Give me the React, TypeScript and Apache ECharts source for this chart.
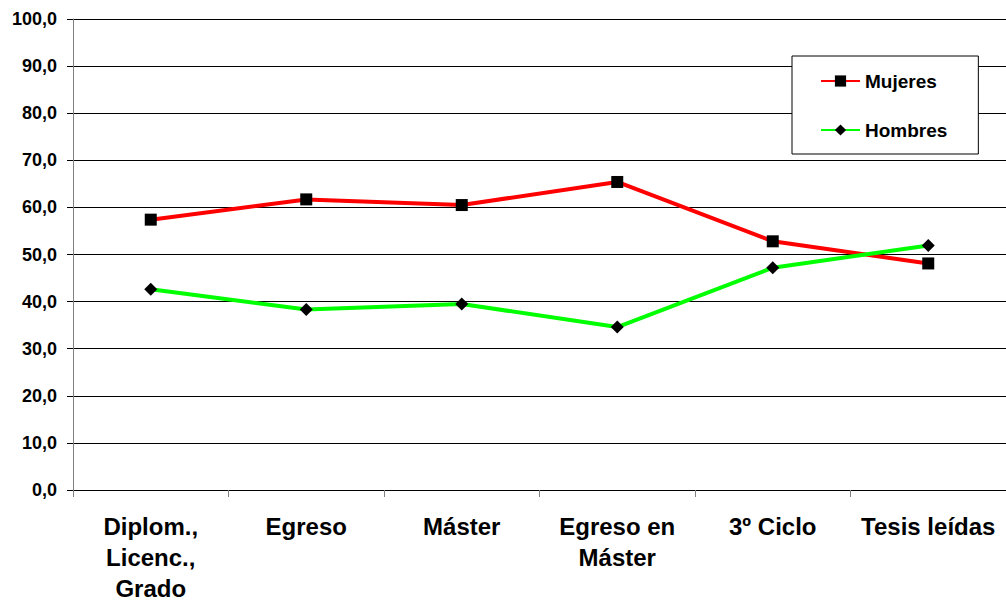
import React, { useEffect, useRef } from "react";
import * as echarts from "echarts";

const categories = ["Diplom.,\nLicenc.,\nGrado", "Egreso", "Máster", "Egreso en\nMáster", "3º Ciclo", "Tesis leídas"];
const mujeres = [57.4, 61.7, 60.5, 65.4, 52.8, 48.1];
const hombres = [42.6, 38.3, 39.5, 34.6, 47.2, 51.9];
const seriesNames = ["Mujeres", "Hombres"];

export default function App() {
  const ref = useRef<HTMLDivElement>(null);
  useEffect(() => {
    if (!ref.current) return;
    const chart = echarts.init(ref.current, undefined, { renderer: "svg" });
    const font = "'Liberation Sans', Arial, sans-serif";
    chart.setOption({
      animation: false,
      backgroundColor: "#ffffff",
      textStyle: { fontFamily: font },
      grid: { left: 73, top: 19, width: 936, height: 472.5, containLabel: false },
      legend: {
        orient: "vertical",
        left: 792,
        top: 56,
        data: seriesNames,
        backgroundColor: "#ffffff",
        borderColor: "#000000",
        borderWidth: 1,
        padding: [15, 31, 14, 28],
        itemGap: 29,
        itemWidth: 39,
        itemHeight: 14,
        textStyle: { fontFamily: font, fontWeight: "bold", fontSize: 19, lineHeight: 20, color: "#000" },
      },
      xAxis: {
        type: "category",
        data: categories,
        boundaryGap: true,
        axisLine: { lineStyle: { color: "#000", width: 1 } },
        axisTick: { show: true, length: 7, lineStyle: { color: "#808080" } },
        axisLabel: {
          fontFamily: font,
          fontWeight: "bold",
          fontSize: 24,
          color: "#000",
          lineHeight: 31,
          margin: 21,
          interval: 0,
        },
      },
      yAxis: {
        type: "value",
        min: 0,
        max: 100,
        interval: 10,
        axisLine: { show: true, lineStyle: { color: "#808080", width: 1 } },
        axisTick: { show: true, length: 6, lineStyle: { color: "#000" } },
        splitLine: { show: true, lineStyle: { color: "#000", width: 1 } },
        axisLabel: {
          fontFamily: font,
          fontWeight: "bold",
          fontSize: 18,
          color: "#000",
          margin: 16,
          formatter: (v: number) => v.toFixed(1).replace(".", ","),
        },
      },
      series: [
        {
          name: seriesNames[0],
          type: "line",
          data: mujeres,
          symbol: "rect",
          symbolSize: 12,
          itemStyle: { color: "#000" },
          lineStyle: { color: "#ff0000", width: 4 },
        },
        {
          name: seriesNames[1],
          type: "line",
          data: hombres,
          symbol: "diamond",
          symbolSize: 13,
          itemStyle: { color: "#000" },
          lineStyle: { color: "#00ff00", width: 4 },
        },
      ],
    });
    return () => chart.dispose();
  }, []);
  return (
    <div
      ref={ref}
      style={{ position: "fixed", left: 0, top: 0, width: 1006, height: 604 }}
    />
  );
}
